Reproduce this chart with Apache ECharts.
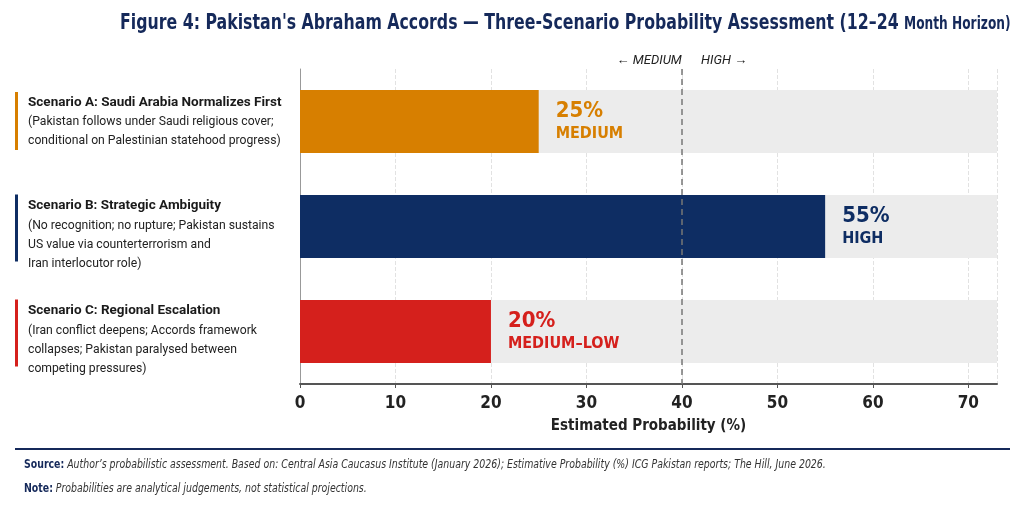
<!DOCTYPE html>
<html>
<head>
<meta charset="utf-8">
<script src="https://cdn.jsdelivr.net/npm/echarts@6/dist/echarts.min.js"></script>
<style>
  html, body { margin: 0; background: #fff; }
  #chart { width: 1024px; height: 512px; }
</style>
</head>
<body>
<div id="chart"></div>
<script>
// data
const scenarioTitles = [
  'Scenario A: Saudi Arabia Normalizes First',
  'Scenario B: Strategic Ambiguity',
  'Scenario C: Regional Escalation'
]
const scenarioNotes = [
  ['(Pakistan follows under Saudi religious cover;', 'conditional on Palestinian statehood progress)'],
  ['(No recognition; no rupture; Pakistan sustains', 'US value via counterterrorism and', 'Iran interlocutor role)'],
  ['(Iran conflict deepens; Accords framework', 'collapses; Pakistan paralysed between', 'competing pressures)']
]
const probabilities = [25, 55, 20]
const levels = ['MEDIUM', 'HIGH', 'MEDIUM\u2013LOW']
const axisMax = 73
const threshold = 40

// styles
const barColors = ['#d77f00', '#0e2d63', '#d5201c']
const NARROW = "'DejaVu Sans Condensed', 'Roboto', sans-serif"
const NAVY = '#15295a'

const chart = echarts.init(document.getElementById('chart'))

chart.setOption({
  backgroundColor: '#fff',
  animation: false,
  grid: { left: 300, right: 27, top: 69, bottom: 128, containLabel: false, outerBoundsMode: 'none' },
  xAxis: {
    type: 'value',
    min: 0,
    max: axisMax,
    interval: 10,
    axisLine: { show: true, lineStyle: { color: '#555', width: 2 } },
    axisTick: { show: true, length: 4, lineStyle: { color: '#555' } },
    axisLabel: { showMaxLabel: false, margin: 11, fontFamily: NARROW, fontWeight: 'bold', fontSize: 17, color: '#222' },
    splitLine: { show: true, lineStyle: { color: '#e2e2e2', type: 'dashed' } },
    name: 'Estimated Probability (%)',
    nameLocation: 'middle',
    nameGap: 35,
    nameTextStyle: { fontFamily: NARROW, fontWeight: 'bold', fontSize: 15, color: '#222' }
  },
  yAxis: {
    type: 'category',
    inverse: true,
    // longer notes sit a little lower beside their bar
    data: scenarioTitles.map((t, i) => ({
      value: t,
      textStyle: scenarioNotes[i].length > 2 ? { align: 'left', padding: [16, 0, 0, 0] } : { align: 'left' }
    })),
    axisLine: { show: true, lineStyle: { color: '#999', width: 1 } },
    axisTick: { show: false },
    axisLabel: {
      align: 'left',
      margin: 272,
      formatter: function (value, idx) {
        return '{t|' + value + '}\n' + scenarioNotes[idx].map(l => '{d|' + l + '}').join('\n')
      },
      rich: {
        t: { fontFamily: 'Roboto', fontWeight: 'bold', fontSize: 13.5, color: '#1a1a1a', lineHeight: 20 },
        d: { fontFamily: 'Roboto', fontSize: 12.2, color: '#222', lineHeight: 19 }
      }
    }
  },
  series: [
    {
      name: 'track',
      type: 'bar',
      silent: true,
      barWidth: 63,
      data: probabilities.map(() => axisMax),
      itemStyle: { color: '#ececec' },
      z: 1
    },
    {
      name: 'Probability',
      type: 'bar',
      barWidth: 63,
      barGap: '-100%',
      z: 2,
      data: probabilities.map((v, i) => ({
        value: v,
        itemStyle: { color: barColors[i] },
        label: {
          rich: {
            v: { fontFamily: NARROW, fontWeight: 'bold', fontSize: 22, color: barColors[i], lineHeight: 25 },
            l: { fontFamily: NARROW, fontWeight: 'bold', fontSize: 16, color: barColors[i], lineHeight: 20 }
          }
        }
      })),
      label: {
        show: true,
        position: 'right',
        distance: 17,
        formatter: p => '{v|' + p.value + '%}\n{l|' + levels[p.dataIndex] + '}'
      },
      markLine: {
        silent: true,
        symbol: 'none',
        z: 10,
        lineStyle: { color: '#777', type: [6, 4], width: 1.5 },
        label: {
          show: true,
          position: 'start',
          distance: 2,
          formatter: '\u2190 MEDIUM      HIGH \u2192',
          fontFamily: 'Roboto',
          fontStyle: 'italic',
          fontSize: 13,
          color: '#222'
        },
        data: [{ xAxis: threshold }]
      }
    }
  ]
})

// accent bars beside the scenario labels, placed from the category scale
const accentGraphics = scenarioTitles.map((t, i) => {
  const cy = chart.convertToPixel({ yAxisIndex: 0 }, i)
  const extra = scenarioNotes[i].length - 2
  return {
    type: 'rect',
    shape: { x: 15, y: cy - 29.5 - extra * 2.5, width: 3, height: 58 + extra * 9 },
    style: { fill: barColors[i] }
  }
})

chart.setOption({
  graphic: accentGraphics.concat([
    {
      type: 'text',
      x: 120,
      y: 12,
      scaleX: 0.797,
      style: {
        text: "{a|Figure 4: Pakistan's Abraham Accords \u2014 Three-Scenario Probability Assessment (12\u201324 }{b|Month Horizon)}",
        rich: {
          a: { fontFamily: NARROW, fontWeight: 'bold', fontSize: 22, fill: NAVY },
          b: { fontFamily: NARROW, fontWeight: 'bold', fontSize: 17, fill: NAVY, padding: [3, 0, 0, 0] }
        }
      }
    },
    {
      type: 'rect',
      shape: { x: 15, y: 448, width: 995, height: 2 },
      style: { fill: NAVY }
    },
    {
      type: 'text',
      x: 24,
      y: 459,
      scaleX: 0.87,
      style: {
        text: '{b|Source:} {i|Author\u2019s probabilistic assessment. Based on: Central Asia Caucasus Institute (January 2026); Estimative Probability (%) ICG Pakistan reports; The Hill, June 2026.}',
        rich: {
          b: { fontFamily: NARROW, fontWeight: 'bold', fontSize: 12, fill: NAVY },
          i: { fontFamily: NARROW, fontStyle: 'italic', fontSize: 12, fill: '#333' }
        }
      }
    },
    {
      type: 'text',
      x: 24,
      y: 483,
      scaleX: 0.87,
      style: {
        text: '{b|Note:} {i|Probabilities are analytical judgements, not statistical projections.}',
        rich: {
          b: { fontFamily: NARROW, fontWeight: 'bold', fontSize: 12, fill: NAVY },
          i: { fontFamily: NARROW, fontStyle: 'italic', fontSize: 12, fill: '#333' }
        }
      }
    }
  ])
})
</script>
</body>
</html>
